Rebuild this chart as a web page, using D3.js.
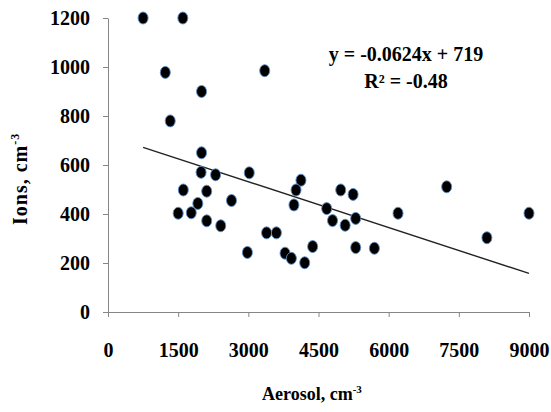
<!DOCTYPE html>
<html lang="en">
<head>
  <meta charset="UTF-8" />
  <title>Ions vs Aerosol</title>
  <style>
    body {
      margin: 0;
      padding: 0;
      background: white;
    }
    svg text {
      font-family: "Liberation Serif", "Times New Roman", serif;
      font-weight: bold;
      fill: #000;
    }
    .axis path, .axis line {
      stroke: #868686;
    }
  </style>
</head>
<body>
<svg id="chart" width="551" height="412"></svg>

<script src="https://cdnjs.cloudflare.com/ajax/libs/d3/7.8.5/d3.min.js"></script>
<script>
  // aerosol (cm^-3) and ions (cm^-3)
  const aerosol = [750, 1600, 1225, 3350, 2000, 1330,
    2000, 1990, 2300, 3020, 1610, 2110, 2640, 1920, 1500, 1780, 2110, 2410, 3390, 3600, 2980,
    4125, 4020, 3975, 4975, 5240, 4675, 6200, 4800, 5070, 5295, 4375, 3785, 3920, 4205, 5295, 5695,
    7240, 9000, 8100];
  const ions = [1200, 1200, 978, 985, 900, 780,
    650, 570, 560, 568, 498, 493, 455, 443, 403, 405, 372, 352, 323, 323, 243,
    538, 498, 437, 498, 480, 422, 403, 373, 354, 382, 267, 240, 219, 201, 263, 260,
    511, 403, 303];

  const xTicks = [0, 1500, 3000, 4500, 6000, 7500, 9000];
  const yTicks = [0, 200, 400, 600, 800, 1000, 1200];

  // trend line y = slope * x + intercept
  const slope = -0.0624;
  const intercept = 719;
  const trendRange = [750, 9000];
  const eqLines = ["y = -0.0624x + 719", "R² = -0.48"];

  const svg = d3.select("#chart");

  const x = d3.scaleLinear().domain([0, 9000]).range([108, 529]);
  const y = d3.scaleLinear().domain([0, 1200]).range([312, 18]);

  // axes
  const xAxis = svg.append("g")
    .attr("class", "axis")
    .attr("transform", "translate(0,312)")
    .call(d3.axisBottom(x).tickValues(xTicks).tickFormat(d3.format("d"))
      .tickSize(5).tickSizeOuter(0).tickPadding(26));
  xAxis.selectAll("text").style("font-size", "20px");

  const yAxis = svg.append("g")
    .attr("class", "axis")
    .attr("transform", "translate(108,0)")
    .call(d3.axisLeft(y).tickValues(yTicks).tickFormat(d3.format("d"))
      .tickSize(5).tickSizeOuter(0).tickPadding(13));
  yAxis.selectAll("text").style("font-size", "20px");
  svg.selectAll(".axis text").attr("fill", "#000");

  // trend line
  svg.append("line")
    .attr("x1", x(trendRange[0]))
    .attr("y1", y(slope * trendRange[0] + intercept))
    .attr("x2", x(trendRange[1]))
    .attr("y2", y(slope * trendRange[1] + intercept))
    .attr("stroke", "#222")
    .attr("stroke-width", 1.4);

  // points
  svg.append("g").selectAll("ellipse")
    .data(aerosol.map((a, i) => ({ a: a, v: ions[i] })))
    .enter().append("ellipse")
    .attr("cx", d => x(d.a))
    .attr("cy", d => y(d.v))
    .attr("rx", 5)
    .attr("ry", 6)
    .attr("fill", "#000")
    .attr("stroke", "#5b8cc8")
    .attr("stroke-width", 0.9);

  // equation
  svg.append("text")
    .attr("x", 406).attr("y", 61)
    .attr("text-anchor", "middle")
    .style("font-size", "20px")
    .text(eqLines[0]);
  svg.append("text")
    .attr("x", 406).attr("y", 88)
    .attr("text-anchor", "middle")
    .style("font-size", "20px")
    .text(eqLines[1]);

  // axis titles
  const xt = svg.append("text")
    .attr("x", 262).attr("y", 400)
    .style("font-size", "18px");
  xt.append("tspan").text("Aerosol, cm");
  xt.append("tspan").attr("dy", -7).style("font-size", "11px").text("-3");

  const yt = svg.append("text")
    .attr("transform", "translate(27,225) rotate(-90)")
    .style("font-size", "20px")
    .style("letter-spacing", "1px");
  yt.append("tspan").text("Ions, cm");
  yt.append("tspan").attr("dy", -8).style("font-size", "12px").text("-3");
</script>
</body>
</html>
